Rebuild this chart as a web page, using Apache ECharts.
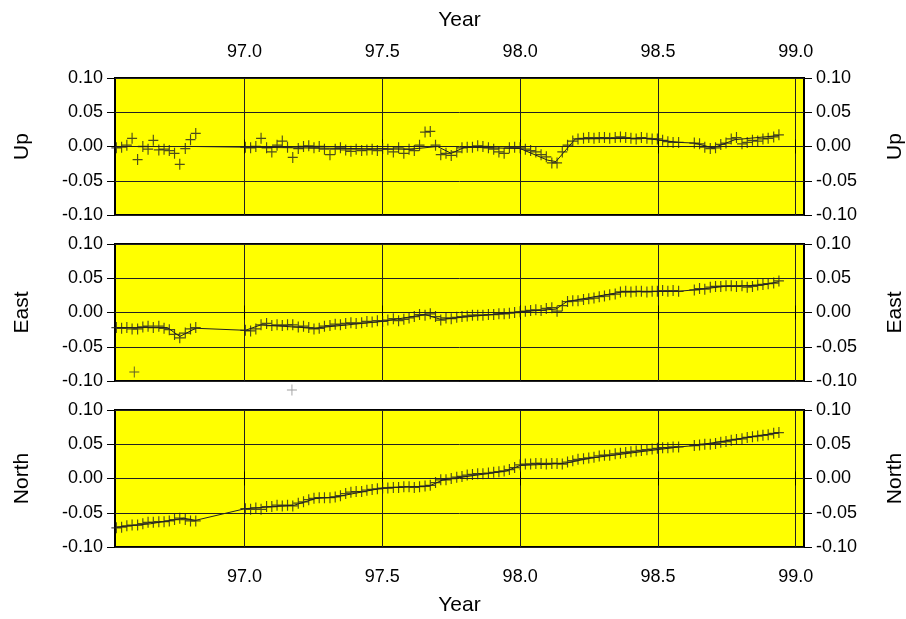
<!DOCTYPE html>
<html>
<head>
<meta charset="utf-8">
<script src="https://cdn.jsdelivr.net/npm/echarts@6/dist/echarts.min.js"></script>
<style>
  html, body { margin: 0; padding: 0; background: #fff; }
  #chart { width: 906px; height: 619px; }
</style>
</head>
<body>
<div id="chart"></div>
<script>
// ---- Data (decimal years, metres) ----
const years = [
  96.535, 96.554, 96.573, 96.592, 96.612, 96.631, 96.650, 96.669, 96.689, 96.708,
  96.727, 96.746, 96.765, 96.785, 96.804, 96.823,
  97.003, 97.022, 97.041, 97.060, 97.080, 97.099, 97.118, 97.137, 97.156, 97.175,
  97.195, 97.214, 97.233, 97.252, 97.271, 97.290, 97.310, 97.329, 97.348, 97.367,
  97.386, 97.405, 97.425, 97.444, 97.463, 97.482, 97.501, 97.520, 97.540, 97.559,
  97.578, 97.597, 97.616, 97.635, 97.655, 97.674, 97.693, 97.712, 97.731, 97.750,
  97.770, 97.789, 97.808, 97.827, 97.846, 97.865, 97.885, 97.904, 97.923, 97.942,
  97.961, 97.980, 98.000, 98.019, 98.038, 98.057, 98.076, 98.095, 98.115, 98.134,
  98.153, 98.172, 98.191, 98.210, 98.230, 98.249, 98.268, 98.287, 98.306, 98.325,
  98.345, 98.364, 98.383, 98.402, 98.421, 98.440, 98.460, 98.479, 98.498, 98.517,
  98.536, 98.555, 98.575,
  98.632, 98.651, 98.670, 98.690, 98.709, 98.728, 98.747, 98.766, 98.785, 98.805,
  98.824, 98.843, 98.862, 98.881, 98.900, 98.920, 98.939
];

const upValues = [
  -0.002, -0.001, 0.002, 0.012, -0.019, 0.000, -0.004, 0.009, -0.005, -0.004,
  -0.006, -0.010, -0.026, -0.003, 0.010, 0.019,
  -0.001, -0.002, 0.000, 0.012, -0.002, -0.008, 0.002, 0.008, -0.001, -0.016,
  -0.003, 0.000, 0.001, -0.002, 0.000, -0.004, -0.012, -0.004, -0.002, -0.005,
  -0.007, -0.004, -0.006, -0.005, -0.004, -0.006, -0.003, -0.004, -0.008, -0.002,
  -0.010, -0.004, -0.006, 0.002, 0.021, 0.022, 0.002, -0.012, -0.010, -0.013,
  -0.008, -0.002, -0.001, -0.001, 0.001, 0.000, -0.002, -0.004, -0.008, -0.010,
  -0.002, -0.001, -0.002, -0.004, -0.006, -0.008, -0.012, -0.015, -0.024, -0.024,
  -0.008, 0.002, 0.008, 0.011, 0.012, 0.013, 0.012, 0.013, 0.013, 0.012,
  0.013, 0.014, 0.013, 0.012, 0.011, 0.013, 0.012, 0.011, 0.011, 0.009,
  0.007, 0.006, 0.006,
  0.005, 0.004, -0.001, -0.003, -0.002, 0.003, 0.005, 0.011, 0.013, 0.004,
  0.006, 0.009, 0.008, 0.011, 0.012, 0.014, 0.017
];

const eastValues = [
  -0.022, -0.023, -0.022, -0.024, -0.024, -0.021, -0.020, -0.022, -0.020, -0.023,
  -0.025, -0.032, -0.037, -0.030, -0.024, -0.022,
  -0.026, -0.027, -0.024, -0.018, -0.016, -0.019, -0.018, -0.019, -0.018, -0.018,
  -0.021, -0.020, -0.022, -0.024, -0.023, -0.020, -0.019, -0.017, -0.018, -0.016,
  -0.015, -0.016, -0.015, -0.013, -0.014, -0.012, -0.013, -0.011, -0.009, -0.012,
  -0.010, -0.008, -0.006, -0.003, -0.004, -0.002, -0.006, -0.011, -0.008, -0.009,
  -0.007, -0.006, -0.005, -0.004, -0.004, -0.004, -0.003, -0.003, -0.002, -0.002,
  -0.001, 0.000, 0.001, 0.002, 0.003, 0.004, 0.003, 0.006, 0.007, 0.002,
  0.010, 0.016, 0.017, 0.017, 0.019, 0.020, 0.021, 0.023, 0.024, 0.026,
  0.027, 0.030, 0.031, 0.030, 0.031, 0.031, 0.030, 0.031, 0.031, 0.032,
  0.031, 0.032, 0.031,
  0.033, 0.035, 0.034, 0.037, 0.038, 0.038, 0.039, 0.039, 0.038, 0.039,
  0.037, 0.038, 0.040, 0.041, 0.042, 0.043, 0.046
];

const northValues = [
  -0.072, -0.071, -0.069, -0.068, -0.068, -0.066, -0.064, -0.064, -0.063, -0.063,
  -0.062, -0.060, -0.058, -0.060, -0.062, -0.062,
  -0.044, -0.045, -0.043, -0.045, -0.041, -0.041, -0.039, -0.040, -0.039, -0.040,
  -0.036, -0.034, -0.031, -0.029, -0.028, -0.028, -0.028, -0.027, -0.025, -0.022,
  -0.020, -0.019, -0.019, -0.017, -0.016, -0.015, -0.014, -0.014, -0.013, -0.013,
  -0.012, -0.012, -0.013, -0.012, -0.011, -0.010, -0.006, -0.002, -0.002, 0.000,
  0.002, 0.003, 0.005, 0.006, 0.007, 0.007, 0.008, 0.009, 0.010, 0.011,
  0.013, 0.016, 0.020, 0.021, 0.021, 0.022, 0.022, 0.021, 0.022, 0.022,
  0.021, 0.024, 0.026, 0.028, 0.029, 0.030, 0.031, 0.033, 0.034, 0.034,
  0.036, 0.037, 0.038, 0.039, 0.040, 0.041, 0.042, 0.043, 0.044, 0.045,
  0.045, 0.046, 0.046,
  0.048, 0.049, 0.050, 0.050, 0.051, 0.053, 0.054, 0.056, 0.057, 0.058,
  0.060, 0.061, 0.062, 0.063, 0.064, 0.066, 0.067
];

// East outliers plotted separately
const eastOutlierYears = [96.600, 97.172];
const eastOutlierValues = [-0.087, -0.113];

// Model (fitted) curves drawn as thin lines through the data
const upModelYears = [96.535, 96.823, 97.003, 97.60, 97.70, 97.75, 97.80, 98.00, 98.10, 98.13, 98.20, 98.45, 98.575, 98.632, 98.70, 98.78, 98.939];
const upModelValues = [0.000, 0.000, -0.001, -0.004, 0.000, -0.010, -0.001, -0.003, -0.020, -0.022, 0.011, 0.012, 0.006, 0.005, -0.002, 0.010, 0.016];
const eastModelYears = [96.535, 96.72, 96.765, 96.823, 97.003, 97.06, 97.25, 97.50, 97.655, 97.712, 98.00, 98.13, 98.17, 98.37, 98.575, 98.632, 98.74, 98.88, 98.939];
const eastModelValues = [-0.022, -0.022, -0.035, -0.023, -0.026, -0.018, -0.023, -0.013, -0.003, -0.010, 0.001, 0.005, 0.016, 0.030, 0.031, 0.033, 0.038, 0.040, 0.045];
const northModelYears = [96.535, 96.66, 96.78, 96.823, 97.003, 97.18, 97.26, 97.33, 97.50, 97.67, 97.72, 97.95, 98.00, 98.16, 98.26, 98.575, 98.632, 98.939];
const northModelValues = [-0.071, -0.066, -0.058, -0.061, -0.044, -0.039, -0.029, -0.027, -0.014, -0.011, -0.002, 0.011, 0.019, 0.022, 0.030, 0.046, 0.048, 0.067];

const xTickValues = [97.0, 97.5, 98.0, 98.5, 99.0];
const panelNames = ['Up', 'East', 'North'];

// ---- Chart ----
const FONT = 'Liberation Sans, Arial, Helvetica, sans-serif';
const xMin = 96.53, xMax = 99.03;
const gridTops = [78, 244, 410];
const gridHeight = 137;

const grids = gridTops.map(t => ({
  left: 115, right: 102, top: t, height: gridHeight,
  containLabel: false, outerBoundsMode: 'none',
  show: true, backgroundColor: '#ffff00', borderColor: '#000', borderWidth: 2
}));

const xAxes = [];
const yAxes = [];
for (let i = 0; i < 3; i++) {
  ['bottom', 'top'].forEach(pos => {
    const labelShown = (i === 0 && pos === 'top') || (i === 2 && pos === 'bottom');
    xAxes.push({
      type: 'value', gridIndex: i, position: pos, min: xMin, max: xMax,
      axisLine: { show: false },
      axisTick: { show: true, length: 7, customValues: xTickValues, lineStyle: { color: '#000', width: 1 } },
      axisLabel: { show: labelShown, customValues: xTickValues, margin: pos === 'top' ? 17 : 21,
        fontSize: 18, color: '#000', fontFamily: FONT,
        formatter: v => v.toFixed(1) },
      splitLine: { show: pos === 'bottom', lineStyle: { color: '#222', width: 1 } },
      name: labelShown ? 'Year' : '', nameLocation: 'middle', nameGap: pos === 'top' ? 47 : 48,
      nameTextStyle: { fontSize: 21, color: '#000', fontFamily: FONT }
    });
  });
  ['left', 'right'].forEach(pos => {
    yAxes.push({
      type: 'value', gridIndex: i, position: pos, min: -0.1, max: 0.1, interval: 0.05,
      axisLine: { show: false },
      axisTick: { show: true, length: 8, lineStyle: { color: '#000', width: 1 } },
      axisLabel: { margin: 12, fontSize: 18, color: '#000', fontFamily: FONT,
        formatter: v => (Math.abs(v) < 1e-9 ? '0.00' : v.toFixed(2)) },
      splitLine: { show: pos === 'left', lineStyle: { color: '#222', width: 1 } },
      name: panelNames[i], nameLocation: 'middle', nameRotate: 90,
      nameGap: pos === 'left' ? 82 : 81,
      nameTextStyle: { fontSize: 21, color: '#000', fontFamily: FONT }
    });
  });
}

const plusSymbol = 'path://M0,5L10,5M5,0L5,10';
const markerStyle = { color: '#222', borderColor: '#222', borderWidth: 1.2 };

const seriesValues = [upValues, eastValues, northValues];
const modelYears = [upModelYears, eastModelYears, northModelYears];
const modelValues = [upModelValues, eastModelValues, northModelValues];

const series = [];
seriesValues.forEach((vals, i) => {
  series.push({
    type: 'line', xAxisIndex: 2 * i, yAxisIndex: 2 * i,
    data: modelYears[i].map((y, k) => [y, modelValues[i][k]]),
    symbol: 'none', lineStyle: { color: '#222', width: 1 }, z: 4
  });
  series.push({
    type: 'scatter', xAxisIndex: 2 * i, yAxisIndex: 2 * i,
    data: years.map((y, k) => [y, vals[k]]),
    symbol: plusSymbol, symbolSize: [10, 11],
    itemStyle: markerStyle, z: 5
  });
});
series.push({
  type: 'scatter', xAxisIndex: 2, yAxisIndex: 2, clip: false,
  data: [
    { value: [eastOutlierYears[0], eastOutlierValues[0]], itemStyle: { color: '#333', borderColor: '#333' } },
    { value: [eastOutlierYears[1], eastOutlierValues[1]], itemStyle: { color: '#888', borderColor: '#888' } }
  ],
  symbol: plusSymbol, symbolSize: [10, 11],
  itemStyle: { borderWidth: 1 },
  z: 5
});

const chart = echarts.init(document.getElementById('chart'));
chart.setOption({
  animation: false,
  backgroundColor: '#fff',
  grid: grids,
  xAxis: xAxes,
  yAxis: yAxes,
  series: series
});
</script>
</body>
</html>
